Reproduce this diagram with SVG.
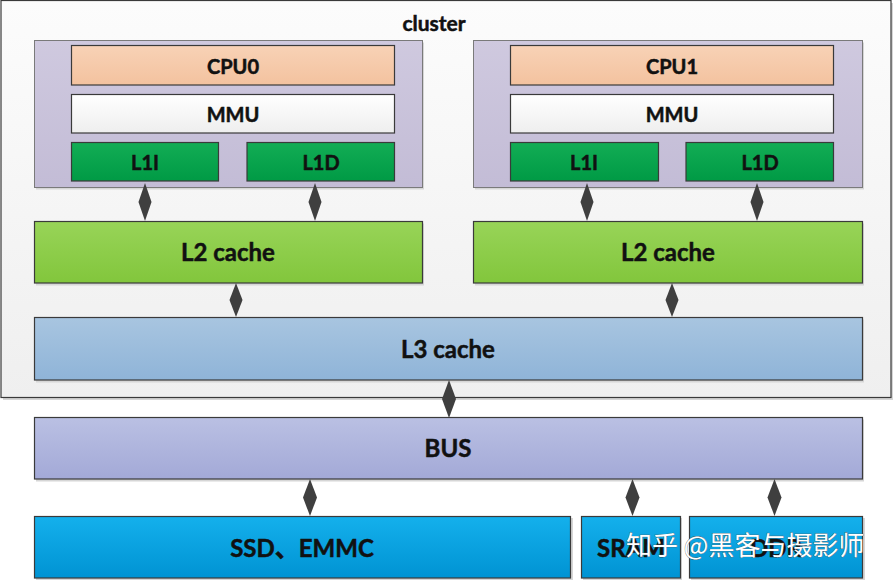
<svg xmlns="http://www.w3.org/2000/svg" width="894" height="582" viewBox="0 0 894 582">
<defs>
<linearGradient id="gCluster" x1="0" y1="0" x2="0" y2="1"><stop offset="0" stop-color="#fcfcfc"/><stop offset="1" stop-color="#efefef"/></linearGradient>
<linearGradient id="gCore" x1="0" y1="0" x2="0" y2="1"><stop offset="0" stop-color="#cfc9df"/><stop offset="1" stop-color="#c3bcd6"/></linearGradient>
<linearGradient id="gCpu" x1="0" y1="0" x2="0" y2="1"><stop offset="0" stop-color="#f8d2b6"/><stop offset="1" stop-color="#f3c29f"/></linearGradient>
<linearGradient id="gMmu" x1="0" y1="0" x2="0" y2="1"><stop offset="0" stop-color="#ffffff"/><stop offset="1" stop-color="#eeeeee"/></linearGradient>
<linearGradient id="gL1" x1="0" y1="0" x2="0" y2="1"><stop offset="0" stop-color="#12ad55"/><stop offset="1" stop-color="#009a45"/></linearGradient>
<linearGradient id="gL2" x1="0" y1="0" x2="0" y2="1"><stop offset="0" stop-color="#98d458"/><stop offset="1" stop-color="#82c63c"/></linearGradient>
<linearGradient id="gL3" x1="0" y1="0" x2="0" y2="1"><stop offset="0" stop-color="#a8c5e0"/><stop offset="1" stop-color="#8fb4d8"/></linearGradient>
<linearGradient id="gBus" x1="0" y1="0" x2="0" y2="1"><stop offset="0" stop-color="#bac0e3"/><stop offset="1" stop-color="#a3a9d7"/></linearGradient>
<linearGradient id="gMem" x1="0" y1="0" x2="0" y2="1"><stop offset="0" stop-color="#14b0ec"/><stop offset="1" stop-color="#0093d3"/></linearGradient>
</defs>
<style>
.box{stroke:#3a3a3a;stroke-width:1.2}
.shadow{fill:#d6d6d6}
.t{font-family:Lato,"Open Sans","Liberation Sans","Noto Sans CJK SC",sans-serif;font-weight:bold;fill:#111;stroke:#111;stroke-width:0.5;text-anchor:middle;dominant-baseline:central}
.s{font-size:20px}
.b{font-size:24px}
.dia{fill:#3f3f3f}
.wm{font-family:"Noto Sans CJK SC",sans-serif;font-size:26px;fill:#ffffff;stroke:#555;stroke-width:0.6;paint-order:stroke;dominant-baseline:central}
</style>
<rect x="0" y="0" width="894" height="582" fill="#ffffff"/>
<g id="cluster">
<rect x="3" y="3" width="890" height="397" class="shadow"/>
<rect x="1" y="0.5" width="890" height="397" fill="url(#gCluster)" stroke="#3a3a3a" stroke-width="1.2"/>
<text x="434" y="22" class="t" style="font-size:21px">cluster</text>
</g>
<g id="core0">
<rect x="36" y="42.5" width="388" height="147" class="shadow"/>
<rect x="34.5" y="40.5" width="388" height="147" fill="url(#gCore)" stroke="#7a7a7a" stroke-width="1"/>
</g>
<g id="cpu0"><rect x="71.5" y="45.5" width="323" height="39.5" fill="url(#gCpu)" class="box"/><text x="233" y="65.5" class="t s">CPU0</text></g>
<g id="mmu0"><rect x="71.5" y="94.5" width="323" height="38.5" fill="url(#gMmu)" class="box"/><text x="233" y="113.5" class="t s">MMU</text></g>
<g id="l1i0"><rect x="71.5" y="142.5" width="147" height="38.5" fill="url(#gL1)" class="box"/><text x="145" y="161.5" class="t s">L1I</text></g>
<g id="l1d0"><rect x="247" y="142.5" width="147.5" height="38.5" fill="url(#gL1)" class="box"/><text x="321" y="161.5" class="t s">L1D</text></g>
<g id="core1">
<rect x="475" y="42.5" width="389" height="147" class="shadow"/>
<rect x="473.5" y="40.5" width="389" height="147" fill="url(#gCore)" stroke="#7a7a7a" stroke-width="1"/>
</g>
<g id="cpu1"><rect x="510.5" y="45.5" width="323" height="39.5" fill="url(#gCpu)" class="box"/><text x="672" y="65.5" class="t s">CPU1</text></g>
<g id="mmu1"><rect x="510.5" y="94.5" width="323" height="38.5" fill="url(#gMmu)" class="box"/><text x="672" y="113.5" class="t s">MMU</text></g>
<g id="l1i1"><rect x="510.5" y="142.5" width="148" height="38.5" fill="url(#gL1)" class="box"/><text x="584" y="161.5" class="t s">L1I</text></g>
<g id="l1d1"><rect x="686" y="142.5" width="147.5" height="38.5" fill="url(#gL1)" class="box"/><text x="760" y="161.5" class="t s">L1D</text></g>
<g id="l2a"><rect x="36" y="223.5" width="388" height="62" class="shadow"/><rect x="34.5" y="221.5" width="388" height="61.5" fill="url(#gL2)" class="box"/><text x="228" y="251.5" class="t b">L2 cache</text></g>
<g id="l2b"><rect x="475" y="223.5" width="389" height="62" class="shadow"/><rect x="473.5" y="221.5" width="389" height="61.5" fill="url(#gL2)" class="box"/><text x="668" y="251.5" class="t b">L2 cache</text></g>
<g id="l3"><rect x="36" y="319.5" width="828" height="63" class="shadow"/><rect x="34.5" y="317.5" width="828" height="62.5" fill="url(#gL3)" class="box"/><text x="448" y="348" class="t b">L3 cache</text></g>
<g id="bus"><rect x="36" y="419.5" width="828" height="62" class="shadow"/><rect x="34.5" y="417.5" width="828" height="61.5" fill="url(#gBus)" class="box"/><text x="448" y="447" class="t b">BUS</text></g>
<g id="ssd"><rect x="36" y="518" width="537" height="62" class="shadow"/><rect x="34.5" y="516.5" width="536" height="61.5" fill="url(#gMem)" class="box"/><text x="302" y="547" class="t b">SSD、EMMC</text></g>
<g id="sram"><rect x="583" y="518" width="99" height="62" class="shadow"/><rect x="581.5" y="516.5" width="99" height="61.5" fill="url(#gMem)" class="box"/><text x="631" y="547" class="t b">SRAM</text></g>
<g id="ddr"><rect x="691" y="518" width="174" height="62" class="shadow"/><rect x="689.5" y="516.5" width="173" height="61.5" fill="url(#gMem)" class="box"/><text x="776" y="547" class="t b">DDR</text></g>
<g id="connectors">
<polygon class="dia" points="145,183 151.5,202 145,221 138.5,202"/>
<polygon class="dia" points="315,183 321.5,202 315,221 308.5,202"/>
<polygon class="dia" points="587,183 593.5,202 587,221 580.5,202"/>
<polygon class="dia" points="757,183 763.5,202 757,221 750.5,202"/>
<polygon class="dia" points="236,283 242.5,300 236,317 229.5,300"/>
<polygon class="dia" points="672,283 678.5,300 672,317 665.5,300"/>
<polygon class="dia" points="449,380 456,399 449,418 442,399"/>
<polygon class="dia" points="310,479 317,497.5 310,516 303,497.5"/>
<polygon class="dia" points="632.5,479 639.5,497.5 632.5,516 625.5,497.5"/>
<polygon class="dia" points="774.5,479 781.5,497.5 774.5,516 767.5,497.5"/>
</g>
<text x="626" y="543" class="wm">知乎 @黑客与摄影师</text>
</svg>
